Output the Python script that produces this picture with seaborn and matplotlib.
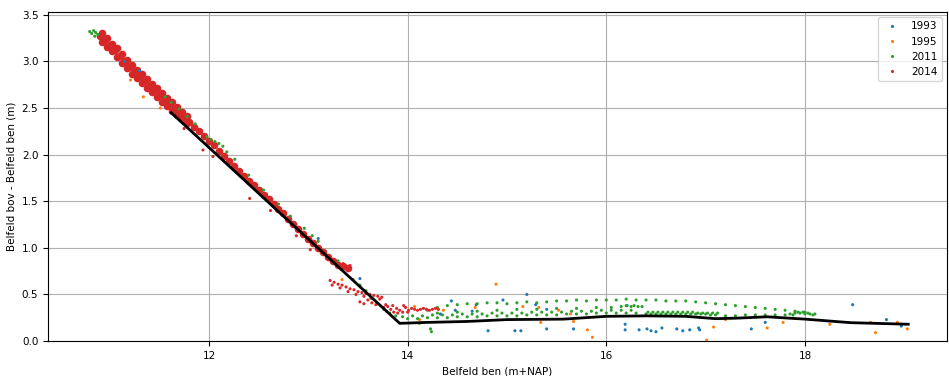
import pandas as pd
import matplotlib
matplotlib.use('Agg')
import matplotlib.pyplot as plt
import seaborn as sns

# scattered points per year
x_1993 = [11.15, 11.30, 13.10, 13.52, 14.44, 14.48, 14.65, 14.69, 14.33, 14.81,
          14.96, 15.08, 15.14, 15.20, 15.29, 15.40, 15.40, 15.67, 16.19, 16.19,
          16.21, 16.33, 16.41, 16.45, 16.50, 16.56, 16.71, 16.77, 16.84, 16.93,
          16.94, 17.46, 17.60, 18.48, 18.82, 18.97]
y_1993 = [3.00, 2.90, 1.10, 0.67, 0.43, 0.33, 0.32, 0.39, 0.29, 0.11,
          0.44, 0.11, 0.11, 0.50, 0.39, 0.34, 0.13, 0.13, 0.18, 0.12,
          0.38, 0.12, 0.13, 0.11, 0.10, 0.14, 0.13, 0.11, 0.12, 0.14,
          0.12, 0.13, 0.20, 0.39, 0.23, 0.16]

x_1995 = [11.21, 11.34, 11.51, 13.34, 14.07, 14.12, 14.36, 14.68, 14.89, 15.16,
          15.32, 15.34, 15.52, 15.64, 15.67, 15.81, 15.86, 17.01, 17.08, 17.20,
          17.62, 17.78, 18.25, 18.66, 18.71, 18.93, 19.03]
y_1995 = [2.80, 2.62, 2.50, 0.66, 0.37, 0.23, 0.33, 0.36, 0.61, 0.37,
          0.36, 0.20, 0.33, 0.29, 0.21, 0.12, 0.04, 0.01, 0.15, 0.23,
          0.14, 0.20, 0.18, 0.20, 0.09, 0.20, 0.13]

# 2011: slope edge, flat rows and clusters
x_2011_slope = [10.80, 10.82, 10.84, 10.86, 10.88, 10.85, 11.56, 11.62, 11.70, 11.78,
                11.86, 11.98, 12.02, 12.06, 12.10, 12.14, 12.18, 12.26, 12.40, 12.55,
                12.70, 12.82, 12.96, 13.04, 13.10, 13.30, 13.45, 13.52, 13.58, 13.63,
                13.70, 13.76, 13.82, 13.88, 13.95]
y_2011_slope = [3.32, 3.30, 3.33, 3.31, 3.29, 3.27, 2.62, 2.56, 2.49, 2.41,
                2.33, 2.19, 2.16, 2.14, 2.12, 2.09, 2.03, 1.95, 1.78, 1.62,
                1.47, 1.34, 1.21, 1.13, 1.07, 0.86, 0.66, 0.60, 0.54, 0.46,
                0.40, 0.34, 0.30, 0.27, 0.26]
x_2011_arc = [14.2, 14.3, 14.4, 14.5, 14.6, 14.7, 14.8, 14.9, 15.0, 15.1,
              15.2, 15.3, 15.4, 15.5, 15.6, 15.7, 15.8, 15.9, 16.0, 16.1,
              16.2, 16.3, 16.4, 16.5, 16.6, 16.7, 16.8, 16.9, 17.0, 17.1,
              17.2, 17.3, 17.4, 17.5, 17.6, 17.7, 17.8, 17.9, 18.0, 18.1]
y_2011_arc = [0.33, 0.36, 0.38, 0.39, 0.40, 0.40, 0.41, 0.41, 0.40, 0.41,
              0.42, 0.41, 0.42, 0.43, 0.43, 0.44, 0.43, 0.44, 0.44, 0.44,
              0.45, 0.44, 0.44, 0.44, 0.43, 0.43, 0.43, 0.42, 0.41, 0.40,
              0.39, 0.38, 0.37, 0.36, 0.35, 0.34, 0.33, 0.32, 0.31, 0.29]
x_2011_mid = [14.30, 14.50, 14.70, 14.90, 15.10, 15.30, 15.50, 15.70, 15.90, 16.05,
              16.15, 16.20, 16.25, 16.28, 16.32, 16.36]
y_2011_mid = [0.30, 0.31, 0.32, 0.33, 0.34, 0.34, 0.35, 0.35, 0.36, 0.36,
              0.37, 0.38, 0.37, 0.38, 0.37, 0.37]
x_2011_low = [14.0, 14.1, 14.2, 14.3, 14.4, 14.5, 14.6, 14.7, 14.8, 14.9,
              15.0, 15.1, 15.2, 15.3, 15.4, 15.5, 15.6, 15.7, 15.8, 15.9,
              16.0, 16.1, 16.2, 16.3,
              14.05, 14.15, 14.25, 14.35, 14.45, 14.55, 14.65, 14.75, 14.85, 14.95,
              15.05, 15.15, 15.25, 15.35, 15.45, 15.55, 15.65, 15.75, 15.85, 15.95,
              16.05, 16.15, 16.25,
              17.2, 17.3, 17.4, 17.5, 17.6, 17.7, 17.8]
y_2011_low = [0.24, 0.24, 0.25, 0.25, 0.25, 0.26, 0.26, 0.26, 0.27, 0.27,
              0.27, 0.27, 0.28, 0.28, 0.28, 0.28, 0.29, 0.29, 0.29, 0.30,
              0.30, 0.30, 0.30, 0.30,
              0.27, 0.27, 0.28, 0.28, 0.28, 0.29, 0.29, 0.29, 0.30, 0.30,
              0.30, 0.30, 0.31, 0.31, 0.31, 0.31, 0.32, 0.32, 0.32, 0.33,
              0.33, 0.33, 0.33,
              0.27, 0.27, 0.28, 0.28, 0.28, 0.28, 0.28]
x_2011_clus = [16.40, 16.45, 16.50, 16.55, 16.60, 16.65, 16.70, 16.75, 16.80, 16.85,
               16.90, 16.95, 17.00, 17.05, 17.10,
               16.42, 16.47, 16.52, 16.57, 16.62, 16.67, 16.72, 16.77, 16.82, 16.87,
               16.92, 16.97, 17.02, 17.07, 17.12,
               17.85, 17.90, 17.95, 18.00, 18.05, 18.08, 17.88, 17.93, 17.98, 18.03,
               14.23, 14.24, 14.12]
y_2011_clus = [0.29, 0.29, 0.29, 0.29, 0.29, 0.29, 0.29, 0.29, 0.29, 0.29,
               0.29, 0.29, 0.29, 0.28, 0.28,
               0.31, 0.31, 0.31, 0.31, 0.31, 0.31, 0.31, 0.31, 0.31, 0.31,
               0.30, 0.30, 0.30, 0.30, 0.30,
               0.29, 0.30, 0.30, 0.29, 0.29, 0.28, 0.28, 0.31, 0.31, 0.30,
               0.13, 0.10, 0.19]

# 2014: dense band along the slope (centre row + two rows on the thick top part)
x_2014_band = [10.90, 10.95, 11.00, 11.05, 11.10, 11.15, 11.20, 11.25, 11.30, 11.35,
               11.40, 11.45, 11.50, 11.55, 11.60, 11.65, 11.70, 11.75, 11.80, 11.85,
               11.90, 11.95, 12.00, 12.05, 12.10, 12.15, 12.20, 12.25, 12.30, 12.35,
               12.40, 12.45, 12.50, 12.55, 12.60, 12.65, 12.70, 12.75, 12.80, 12.85,
               12.90, 12.95, 13.00, 13.05, 13.10, 13.15, 13.20, 13.25, 13.30, 13.35,
               13.40]
y_2014_band = [3.27, 3.23, 3.18, 3.12, 3.06, 3.00, 2.94, 2.89, 2.84, 2.79,
               2.74, 2.69, 2.64, 2.59, 2.54, 2.49, 2.44, 2.40, 2.35, 2.30,
               2.25, 2.20, 2.15, 2.10, 2.04, 1.99, 1.93, 1.88, 1.82, 1.77,
               1.72, 1.67, 1.62, 1.57, 1.52, 1.47, 1.42, 1.37, 1.31, 1.26,
               1.20, 1.15, 1.10, 1.05, 1.00, 0.95, 0.90, 0.86, 0.82, 0.80,
               0.78]
x_2014_top = [10.925, 10.975, 11.025, 11.075, 11.125, 11.175, 11.225, 11.275, 11.325,
              11.375, 11.425, 11.475, 11.525, 11.575, 11.625, 11.675, 11.725, 11.775]
y_2014_top_hi = [3.30, 3.25, 3.19, 3.14, 3.08, 3.01, 2.96, 2.91, 2.86,
                 2.81, 2.76, 2.71, 2.66, 2.61, 2.56, 2.51, 2.46, 2.41]
y_2014_top_lo = [3.21, 3.16, 3.11, 3.05, 2.98, 2.93, 2.87, 2.82, 2.77,
                 2.72, 2.67, 2.62, 2.57, 2.52, 2.47, 2.42, 2.38, 2.34]

# 2014: outliers, lower branch and flat cluster near the kink
x_2014 = [11.75, 11.94, 12.04, 12.41, 12.62, 12.88, 13.02,
          13.30, 13.35, 13.38, 13.42, 13.28, 13.33,
          13.22, 13.26, 13.30, 13.34, 13.38, 13.42, 13.46, 13.50, 13.54, 13.58,
          13.62, 13.66, 13.70, 13.74,
          13.24, 13.32, 13.40, 13.48, 13.56, 13.64, 13.72,
          13.52, 13.56, 13.60, 13.64, 13.68,
          13.76, 13.79, 13.80, 13.83, 13.86, 13.89, 13.92, 13.95, 13.98, 14.01,
          14.04, 14.07, 14.10, 14.13, 14.16, 14.19, 14.22, 14.25, 14.28, 14.31,
          13.78, 13.85, 13.90, 13.96, 14.00]
y_2014 = [2.28, 2.05, 1.98, 1.53, 1.40, 1.13, 0.98,
          0.80, 0.83, 0.78, 0.81, 0.84, 0.77,
          0.65, 0.63, 0.61, 0.60, 0.58, 0.56, 0.55, 0.53, 0.52, 0.51,
          0.50, 0.49, 0.48, 0.47,
          0.60, 0.57, 0.53, 0.50, 0.48, 0.46, 0.45,
          0.42, 0.40, 0.44, 0.41, 0.39,
          0.36, 0.32, 0.37, 0.34, 0.31, 0.35, 0.33, 0.31, 0.36, 0.33,
          0.35, 0.34, 0.33, 0.34, 0.35, 0.34, 0.33, 0.34, 0.35, 0.34,
          0.39, 0.38, 0.30, 0.38, 0.31]

# black reference line
line_x = [11.62, 13.92, 14.20, 14.60, 15.00, 15.57, 16.00, 16.40, 16.80, 17.10,
          17.30, 17.62, 18.00, 18.46, 19.04]
line_y = [2.45, 0.19, 0.20, 0.21, 0.23, 0.235, 0.265, 0.27, 0.265, 0.24,
          0.245, 0.26, 0.235, 0.197, 0.18]

years = ['1993', '1995', '2011', '2014']
colors = ['#1f77b4', '#ff7f0e', '#2ca02c', '#d62728']

x_2011 = x_2011_slope + x_2011_arc + x_2011_mid + x_2011_low + x_2011_clus
y_2011 = y_2011_slope + y_2011_arc + y_2011_mid + y_2011_low + y_2011_clus

df = pd.concat([
    pd.DataFrame({'x': x_1993, 'y': y_1993, 'jaar': '1993'}),
    pd.DataFrame({'x': x_1995, 'y': y_1995, 'jaar': '1995'}),
    pd.DataFrame({'x': x_2011, 'y': y_2011, 'jaar': '2011'}),
    pd.DataFrame({'x': x_2014, 'y': y_2014, 'jaar': '2014'}),
], ignore_index=True)
band = pd.DataFrame({'x': x_2014_band + x_2014_top + x_2014_top,
                     'y': y_2014_band + y_2014_top_hi + y_2014_top_lo})

fig = plt.figure(figsize=(9.49, 3.76), dpi=100)
ax = fig.add_axes([0.0506, 0.093, 0.9473, 0.875])

# dense 2014 band first, scattered points on top
sns.scatterplot(data=band, x='x', y='y', color=colors[3], s=30, linewidth=0,
                legend=False, ax=ax, zorder=2)
sns.scatterplot(data=df, x='x', y='y', hue='jaar', hue_order=years,
                palette=colors, s=5, linewidth=0, ax=ax, zorder=3)
sns.lineplot(x=line_x, y=line_y, color='black', linewidth=2, sort=False,
             ax=ax, zorder=4)

ax.set_xlim(10.38, 19.43)
ax.set_ylim(0, 3.53)
ax.set_xticks([12, 14, 16, 18])
ax.grid(True, color='#b0b0b0', linewidth=0.8)
ax.set_axisbelow(True)
ax.tick_params(labelsize=7.5)
ax.set_xlabel('Belfeld ben (m+NAP)', fontsize=7.5)
ax.set_ylabel('Belfeld bov - Belfeld ben (m)', fontsize=7.5)
ax.legend(loc='upper right', fontsize=7.5, markerscale=1.0, title=None)

fig.savefig('out.png', dpi=100)
